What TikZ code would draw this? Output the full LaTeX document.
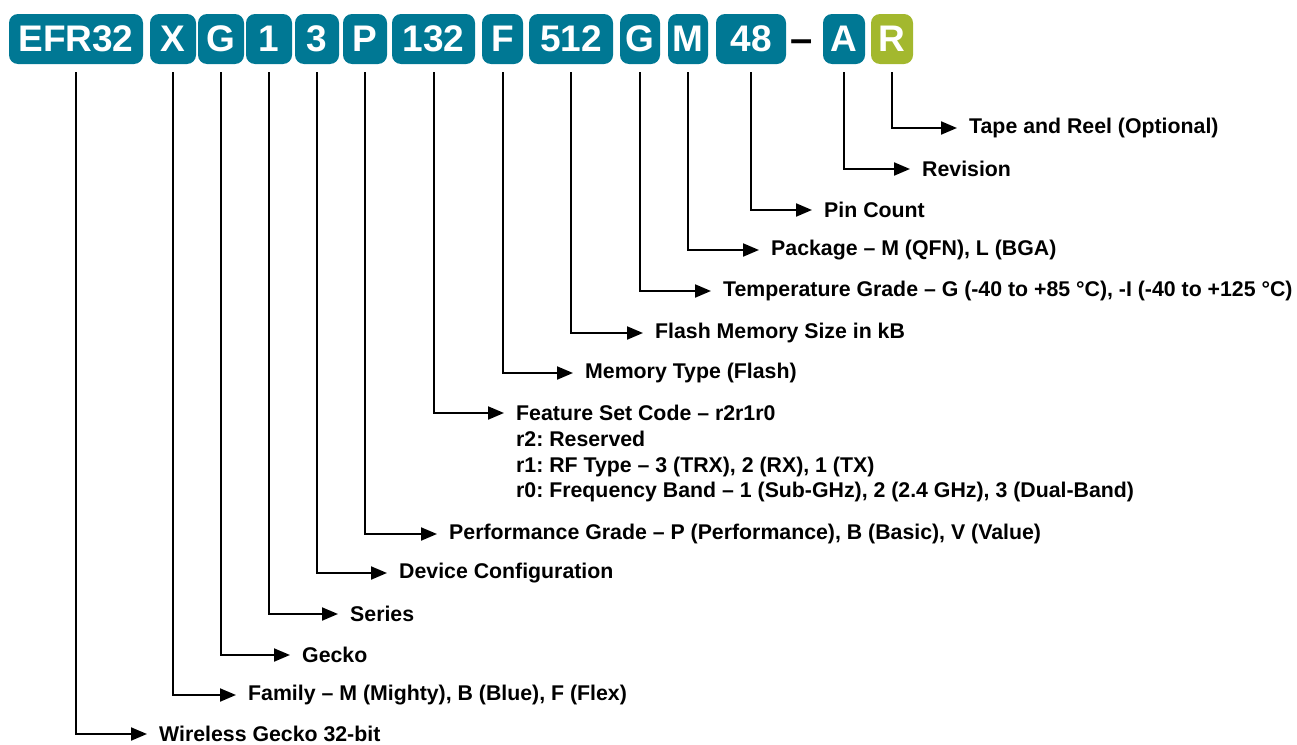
\documentclass[tikz,border=0pt]{standalone}
\usepackage{fontspec}
\setmainfont{Liberation Sans}
\usetikzlibrary{arrows.meta}
\definecolor{teal}{HTML}{007894}
\definecolor{lime}{HTML}{A3B82E}
\frenchspacing
\tikzset{
  pbox/.style={fill=teal, rounded corners=9pt, minimum height=50pt, inner sep=0pt, text=white, font=\fontsize{37}{40}\selectfont\bfseries},
  gbox/.style={pbox, fill=lime},
  lab/.style={anchor=west, inner sep=0pt, font=\fontsize{21.3}{25.5}\selectfont\bfseries},
  sub/.style={anchor=north west, inner sep=0pt, align=left, font=\fontsize{21.3}{25.5}\selectfont\bfseries},
  conn/.style={line width=2pt, -{Triangle[length=16pt,width=13pt]}, shorten >=12pt},
}
\begin{document}
\begin{tikzpicture}[x=1pt,y=-1pt]
\useasboundingbox (0,0) rectangle (1297,744);
% part boxes
\node[pbox, minimum width=134pt] (b1) at (76,39) {EFR32};
\node[pbox, minimum width=46pt] (b2) at (173,39) {X};
\node[pbox, minimum width=46pt] (b3) at (221,39) {G};
\node[pbox, minimum width=46pt] (b4) at (269,39) {1};
\node[pbox, minimum width=44pt] (b5) at (317,39) {3};
\node[pbox, minimum width=44pt] (b6) at (365,39) {P};
\node[pbox, minimum width=83pt] (b7) at (433.5,39) {132};
\node[pbox, minimum width=41pt] (b8) at (502.5,39) {F};
\node[pbox, minimum width=84pt] (b9) at (571,39) {512};
\node[pbox, minimum width=40pt] (b10) at (640,39) {G};
\node[pbox, minimum width=40pt] (b11) at (688,39) {M};
\node[pbox, minimum width=70pt] (b12) at (751,39) {48};
\node[inner sep=0pt, font=\fontsize{40}{44}\selectfont\bfseries] (dash) at (802,46) {–};
\node[pbox, minimum width=42pt] (b13) at (844,39) {A};
\node[gbox, minimum width=42pt] (b14) at (892,39) {R};
% labels
\node[lab] (l1) at (159,734) {Wireless Gecko 32-bit};
\node[lab] (l2) at (248,695) {Family – M (Mighty), B (Blue), F (Flex)};
\node[lab] (l3) at (302,655) {Gecko};
\node[lab] (l4) at (350,614) {Series};
\node[lab] (l5) at (399,573) {Device Configuration};
\node[lab] (l6) at (449,534) {Performance Grade – P (Performance), B (Basic), V (Value)};
\node[lab] (l7) at (516,413) {Feature Set Code – r2r1r0};
\node[sub] (l7b) at ([yshift=-10pt]l7.south west) {r2: Reserved\\r1: RF Type – 3 (TRX), 2 (RX), 1 (TX)\\r0: Frequency Band – 1 (Sub-GHz), 2 (2.4 GHz), 3 (Dual-Band)};
\node[lab] (l8) at (585,373) {Memory Type (Flash)};
\node[lab] (l9) at (655,333) {Flash Memory Size in kB};
\node[lab] (l10) at (723,291) {Temperature Grade – G (-40 to +85 °C), -I (-40 to +125 °C)};
\node[lab] (l11) at (771,250) {Package – M (QFN), L (BGA)};
\node[lab] (l12) at (824,210) {Pin Count};
\node[lab] (l13) at (922,169) {Revision};
\node[lab] (l14) at (969,128) {Tape and Reel (Optional)};
% connectors
\foreach \i in {1,...,14}{
  \draw[conn] ([yshift=-8pt]b\i.south) |- (l\i.west);
}
\end{tikzpicture}
\end{document}
